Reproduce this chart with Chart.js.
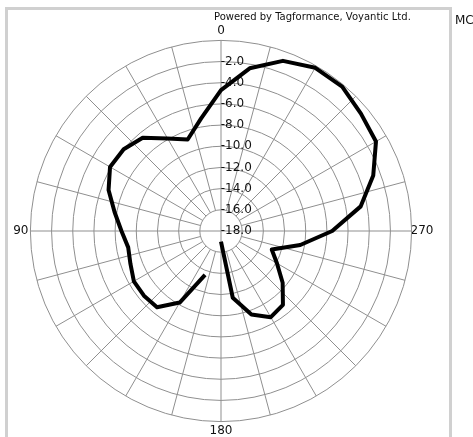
<!DOCTYPE html>
<html>
<head>
<meta charset="utf-8">
<script src="https://cdn.jsdelivr.net/npm/chart.js@4.4.1/dist/chart.umd.min.js"></script>
<style>
  html, body { margin: 0; padding: 0; width: 473px; height: 437px; overflow: hidden; background: #fff; }
  #frame { position: absolute; left: 5px; top: 7px; width: 441px; height: 440px; border: 3px solid #d0d0d0; border-bottom: none; }
  #chart { position: absolute; left: -39px; top: 0; }
  #credit { position: absolute; left: 214px; top: 11px; font: 10px "DejaVu Sans"; color: #111; white-space: nowrap; }
  #legend { position: absolute; left: 455px; top: 13px; font: 12px "DejaVu Sans"; color: #111; white-space: nowrap; }
</style>
</head>
<body>
<div id="frame"></div>
<canvas id="chart" width="520" height="460"></canvas>
<div id="credit">Powered by Tagformance, Voyantic Ltd.</div>
<div id="legend">MC</div>
<script>
// angle in degrees, counter-clockwise from the top, and level in dB
const angles = [0, 10, 20, 30, 40, 50, 60, 70, 80, 90, 100, 110, 120, 130, 140, 150, 160, 170,
                180, 190, 200, 210, 220, 230, 240, 250, 260, 270, 280, 290, 300, 310, 320, 330, 340, 350];
const levels = [-4.7, -7.2, -8.8, -7.9, -6.5, -6.0, -5.9, -6.7, -7.8, -8.6, -9.1, -8.9, -8.5, -8.5, -8.6, -10.2, -13.6, null,
                -17.0, -11.6, -9.6, -8.6, -8.9, -10.4, -11.9, -12.9, -10.4, -7.5, -4.6, -2.7, -1.1, -0.75, -0.2, -0.2, -0.9, -2.4];

// spokes of the grid every 15 degrees
const gridAngles = [0, 15, 30, 45, 60, 75, 90, 105, 120, 135, 150, 165,
                    180, 195, 210, 225, 240, 255, 270, 285, 300, 315, 330, 345];
const axisLabels = ['0', '90', '180', '270'];

const rMin = -18, rMax = 0, rStep = 2;

const textColor = '#111';
const gridColor = '#8f8f8f';
const tickFont = { family: 'DejaVu Sans', size: 12 };
const labelFont = { family: 'DejaVu Sans', size: 12 };

// radar goes clockwise, the plot counter-clockwise
const cw = list => list.map((_, i) => list[(list.length - i) % list.length]);

const measure = document.createElement('canvas').getContext('2d');
measure.font = '12px "DejaVu Sans"';

// tick text is centred on the axis: pad it so it starts at the axis
function tickText(v) {
    if (v === rMax) return '';
    const s = v.toFixed(1);
    const n = Math.round(measure.measureText(s).width / measure.measureText(' ').width);
    return ' '.repeat(n) + s;
}

function pointText(label) {
    return axisLabels.includes(String(label)) ? String(label) : '';
}

// only the four axes run into the centre, other spokes stop at the first ring
function spokeDash(ctx) {
    if (axisLabels.includes(String(ctx.label))) return [];
    const ring = ctx.chart.scales.rGrid.drawingArea * rStep / (rMax - rMin);
    return [0, ring, 1000, 0];
}

function radial(labels, showGrid) {
    const ink = showGrid ? textColor : 'rgba(0,0,0,0)';
    return {
        type: 'radialLinear',
        axis: 'r',
        labels: labels,
        min: rMin,
        max: rMax,
        startAngle: 0,
        ticks: { stepSize: rStep, font: tickFont, color: ink, callback: tickText, showLabelBackdrop: false },
        pointLabels: {
            display: true,
            padding: ctx => String(ctx.label) === '270' ? -9 : -6,
            font: labelFont,
            color: ink,
            callback: pointText
        },
        grid: { display: showGrid, circular: true, color: gridColor, lineWidth: 1 },
        angleLines: { display: showGrid, color: gridColor, lineWidth: 1, borderDash: spokeDash }
    };
}

const dataLabels = cw(angles);

new Chart(document.getElementById('chart'), {
    type: 'radar',
    data: {
        labels: dataLabels,
        datasets: [{
            label: 'MC',
            rAxisID: 'r',
            data: cw(levels),
            borderColor: '#000',
            borderWidth: 4,
            borderJoinStyle: 'round',
            fill: false,
            pointRadius: 0,
            tension: 0,
            spanGaps: false
        }]
    },
    options: {
        responsive: false,
        animation: false,
        layout: { padding: { top: 24, bottom: 21, left: 0, right: 0 } },
        plugins: { legend: { display: false }, tooltip: { enabled: false } },
        scales: {
            r: radial(dataLabels, false),
            rGrid: radial(cw(gridAngles), true)
        }
    }
});
</script>
</body>
</html>
